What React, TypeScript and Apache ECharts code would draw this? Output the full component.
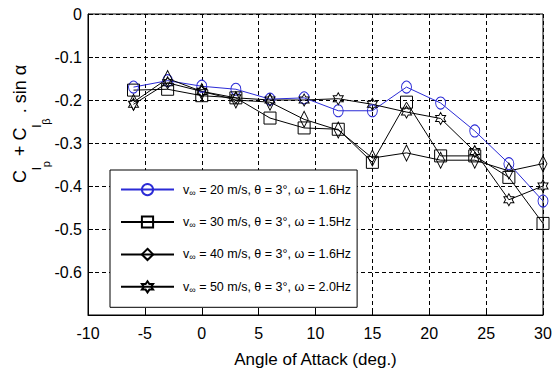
import React, { useEffect, useRef } from "react";
import * as echarts from "echarts";

const angles = [-6, -3, 0, 3, 6, 9, 12, 15, 18, 21, 24, 27, 30];
const v20 = [-0.170, -0.155, -0.168, -0.175, -0.198, -0.195, -0.225, -0.225, -0.170, -0.207, -0.272, -0.348, -0.435];
const v30 = [-0.177, -0.175, -0.190, -0.195, -0.242, -0.265, -0.268, -0.345, -0.205, -0.330, -0.330, -0.380, -0.487];
const v40 = [-0.205, -0.150, -0.180, -0.200, -0.205, -0.245, -0.270, -0.335, -0.323, -0.340, -0.340, -0.365, -0.348];
const v50 = [-0.210, -0.160, -0.180, -0.195, -0.200, -0.200, -0.197, -0.210, -0.228, -0.243, -0.320, -0.432, -0.400];

const seriesNames = [
  "{v|v}{s|∞}{t| = 20 m/s, θ = 3°, ω = 1.6Hz}",
  "{v|v}{s|∞}{t| = 30 m/s, θ = 3°, ω = 1.5Hz}",
  "{v|v}{s|∞}{t| = 40 m/s, θ = 3°, ω = 1.6Hz}",
  "{v|v}{s|∞}{t| = 50 m/s, θ = 3°, ω = 2.0Hz}",
];
const legendIds = ["s20", "s30", "s40", "s50"];

const HEX = "path://M0,-10L2.887,-5L8.66,-5L5.774,0L8.66,5L2.887,5L0,10L-2.887,5L-8.66,5L-5.774,0L-8.66,-5L-2.887,-5Z";
const FONT = "'Liberation Sans', Arial, sans-serif";

export default function App() {
  const ref = useRef<HTMLDivElement>(null);
  useEffect(() => {
    if (!ref.current) return;
    const chart = echarts.init(ref.current, null, { renderer: "svg" });
    const mk = (name: string, vals: number[], symbol: string, size: any, color: string) => ({
      name,
      type: "line",
      data: angles.map((a, i) => [a, vals[i]]),
      symbol,
      symbolSize: size,
      showAllSymbol: true,
      lineStyle: { color, width: 1 },
      itemStyle: { color: "rgba(255,255,255,0)", borderColor: color, borderWidth: 1 },
      emphasis: { disabled: true },
    });
    const names = legendIds;
    const labelMap: Record<string, string> = {};
    names.forEach((n, i) => (labelMap[n] = seriesNames[i]));
    chart.setOption({
      animation: false,
      backgroundColor: "#fff",
      grid: { left: 88, right: 12, top: 14, bottom: 59, show: true, borderColor: "#000", borderWidth: 1 },
      xAxis: {
        type: "value",
        min: -10,
        max: 30,
        interval: 5,
        axisLine: { show: true, onZero: false, lineStyle: { color: "#000", width: 1 } },
        axisTick: { show: true, inside: true, length: 5, lineStyle: { color: "#000" } },
        axisLabel: { color: "#000", fontSize: 16, margin: 10, fontFamily: FONT },
        splitLine: { show: true, lineStyle: { color: "#000", type: [4, 3], width: 1 } },
        name: "Angle of Attack (deg.)",
        nameLocation: "middle",
        nameGap: 36,
        nameTextStyle: { color: "#000", fontSize: 17, fontFamily: FONT },
      },
      yAxis: {
        type: "value",
        min: -0.7,
        max: 0,
        interval: 0.1,
        axisLine: { show: true, onZero: false, lineStyle: { color: "#000", width: 1 } },
        axisTick: { show: true, inside: true, length: 5, lineStyle: { color: "#000" } },
        axisLabel: {
          color: "#000",
          fontSize: 16,
          margin: 6,
          fontFamily: FONT,
          formatter: (v: number) => (Math.abs(v + 0.7) < 1e-9 ? "" : String(Math.round(v * 10) / 10)),
        },
        splitLine: { show: true, lineStyle: { color: "#000", type: [4, 3], width: 1 } },
      },
      legend: {
        orient: "vertical",
        left: 110,
        top: 170,
        data: names,
        itemWidth: 53,
        itemHeight: 14,
        itemGap: 18.3,
        padding: [13, 6, 13, 10],
        backgroundColor: "#fff",
        borderColor: "#000",
        borderWidth: 1,
        borderRadius: 0,
        formatter: (n: string) => labelMap[n],
        textStyle: {
          color: "#000",
          fontSize: 12.5,
          fontFamily: FONT,
          padding: [0, 0, 0, 4],
          rich: {
            v: { fontSize: 12.5, fontFamily: FONT, color: "#000" },
            s: { fontSize: 9, fontFamily: FONT, color: "#000", verticalAlign: "bottom", padding: [6, 0, 0, 0] },
            t: { fontSize: 12.5, fontFamily: FONT, color: "#000" },
          },
        },
      },
      graphic: [
        {
          type: "text",
          x: 11,
          y: 124,
          rotation: Math.PI / 2,
          style: {
            text: "{m|C}{s|l}{ss|p}{m| + C}{s|l}{ss|β}{m| . sin α}",
            align: "center",
            verticalAlign: "top",
            fill: "#000",
            rich: {
              m: { fontSize: 18, lineHeight: 19, fontFamily: FONT, fill: "#000", verticalAlign: "top" },
              s: { fontSize: 13, lineHeight: 14, fontFamily: FONT, fill: "#000", verticalAlign: "top", padding: [19, 0, 0, 0] },
              ss: { fontSize: 11, lineHeight: 10, fontFamily: FONT, fill: "#000", verticalAlign: "top", padding: [29, 0, 0, 0] },
            },
          },
        },
      ],
      series: [
        mk(names[0], v20, "circle", [10, 12], "#2b2bd6"),
        mk(names[1], v30, "rect", [12, 12], "#000"),
        mk(names[2], v40, "diamond", [8, 16], "#000"),
        mk(names[3], v50, HEX, [10, 12], "#000"),
      ],
    });
    return () => chart.dispose();
  }, []);
  return <div ref={ref} style={{ position: "fixed", left: 0, top: 0, width: 555, height: 374 }} />;
}
